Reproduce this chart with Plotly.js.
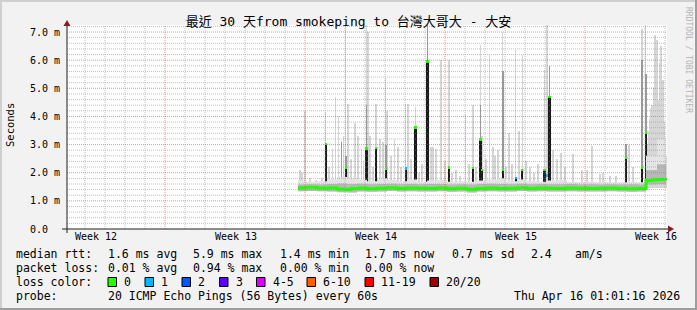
<!DOCTYPE html>
<html><head><meta charset="utf-8">
<script src="https://cdn.plot.ly/plotly-3.0.1.min.js"></script>
<style>html,body{margin:0;padding:0;background:#f2f2f2;overflow:hidden}</style>
</head><body><div id="chart" style="width:697px;height:310px"></div>
<script>
// ---- time axis: days since start of the 30-day window ----
const weekTicks = [1.45, 8.45, 15.45, 22.45, 29.45];
const weekLabels = ["Week 12", "Week 13", "Week 14", "Week 15", "Week 16"];
const yTicks = [0, 1, 2, 3, 4, 5, 6, 7];
const yLabels = ["0.0\u00a0\u00a0", "1.0 m", "2.0 m", "3.0 m", "4.0 m", "5.0 m", "6.0 m", "7.0 m"];

// median rtt (ms), loss 0
const medT = [11.55, 12.0, 12.5, 12.9, 13.1, 13.5, 13.9, 14.2, 14.6, 15.0, 15.5, 16.0, 16.5, 17.0, 17.5, 18.0, 18.5, 19.0, 19.5, 20.0, 20.5, 21.0, 21.5, 22.0, 22.5, 23.0, 23.5, 24.0, 24.5, 25.0, 25.5, 26.0, 26.5, 27.0, 27.5, 28.0, 28.5, 28.95, 29.3, 29.5, 29.95];
const medV = [1.47, 1.48, 1.46, 1.45, 1.47, 1.42, 1.40, 1.44, 1.46, 1.43, 1.45, 1.47, 1.44, 1.46, 1.45, 1.44, 1.46, 1.43, 1.45, 1.41, 1.44, 1.46, 1.44, 1.45, 1.47, 1.44, 1.46, 1.45, 1.44, 1.46, 1.45, 1.44, 1.45, 1.46, 1.44, 1.43, 1.44, 1.72, 1.74, 1.76, 1.73];

// smoke band around the median
const bandT  = [11.55, 12.0, 12.5, 13.0, 13.5, 14.0, 14.5, 15.0, 15.5, 16.0, 16.5, 17.0, 17.5, 18.0, 18.5, 19.0, 19.5, 20.0, 20.5, 21.0, 21.5, 22.0, 22.5, 23.0, 23.5, 24.0, 24.5, 25.0, 25.5, 26.0, 26.5, 27.0, 27.5, 28.0, 28.5, 28.95, 29.5, 29.95];
const bandLo = [1.34, 1.35, 1.34, 1.33, 1.31, 1.30, 1.33, 1.32, 1.33, 1.35, 1.33, 1.34, 1.33, 1.33, 1.34, 1.32, 1.33, 1.30, 1.33, 1.34, 1.33, 1.33, 1.35, 1.33, 1.34, 1.33, 1.33, 1.34, 1.33, 1.33, 1.33, 1.34, 1.33, 1.32, 1.33, 1.58, 1.60, 1.58];
const bandMid = [1.58, 1.59, 1.58, 1.60, 1.62, 1.60, 1.61, 1.59, 1.60, 1.61, 1.59, 1.60, 1.59, 1.60, 1.60, 1.58, 1.59, 1.58, 1.60, 1.61, 1.60, 1.59, 1.61, 1.59, 1.60, 1.59, 1.59, 1.60, 1.58, 1.59, 1.58, 1.59, 1.58, 1.59, 1.58, 2.10, 2.30, 2.00];
const bandHi = [1.72, 1.68, 1.70, 1.78, 1.85, 1.80, 1.75, 1.70, 1.80, 1.74, 1.70, 1.76, 1.68, 1.72, 1.74, 1.68, 1.70, 1.68, 1.72, 1.76, 1.80, 1.70, 1.76, 1.70, 1.68, 1.72, 1.74, 1.68, 1.66, 1.68, 1.66, 1.66, 1.66, 1.68, 1.66, 2.60, 3.20, 2.60];

// light smoke: max ping of each interval
const smokeT = [11.65, 11.75, 11.90, 12.15, 12.45, 12.75, 12.94, 13.10, 13.28, 13.42, 13.57, 13.72, 13.82, 13.94, 14.05, 14.20, 14.40, 14.55, 14.72, 14.82, 14.97, 15.05, 15.15, 15.30, 15.45, 15.65, 15.80, 15.94, 16.00, 16.20, 16.39, 16.55, 16.70, 16.94, 17.05, 17.20, 17.42, 17.60, 17.75, 18.02, 18.20, 18.30, 18.45, 18.70, 18.90, 19.10, 19.25, 19.45, 19.65, 19.93, 20.10, 20.30, 20.45, 20.67, 20.75, 20.95, 21.12, 21.30, 21.40, 21.55, 21.79, 21.95, 22.10, 22.25, 22.42, 22.60, 22.78, 22.95, 23.15, 23.35, 23.55, 23.87, 24.00, 24.30, 24.50, 24.70, 24.90, 25.30, 25.75, 26.00, 26.25, 26.65, 26.80, 27.15, 27.45, 27.94, 28.10, 28.30, 28.75, 28.94, 29.00, 29.05, 29.10, 29.15, 29.20, 29.25, 29.30, 29.35, 29.40, 29.45, 29.50, 29.55, 29.60, 29.65, 29.70, 29.75, 29.80, 29.85, 29.90, 29.95];
const smokeTop = [2.10, 2.00, 4.20, 1.80, 1.75, 1.80, 4.15, 2.20, 2.86, 4.69, 4.00, 3.14, 3.30, 7.25, 4.46, 2.50, 3.75, 3.30, 2.86, 2.40, 7.25, 7.00, 3.30, 2.20, 4.46, 3.20, 3.10, 5.35, 4.20, 2.60, 3.20, 2.90, 2.20, 4.43, 4.46, 2.50, 4.33, 2.00, 2.30, 7.25, 2.90, 2.90, 2.86, 6.00, 2.40, 6.00, 2.00, 2.10, 1.90, 4.10, 2.30, 4.40, 2.20, 6.54, 3.30, 2.50, 6.20, 2.90, 2.60, 2.80, 7.00, 2.20, 3.40, 2.30, 6.36, 3.50, 6.18, 2.40, 2.20, 2.00, 2.30, 5.64, 7.25, 2.80, 2.50, 2.70, 2.20, 2.68, 2.10, 2.10, 2.94, 1.95, 2.00, 1.90, 1.90, 3.03, 3.00, 2.20, 7.10, 7.25, 2.20, 3.00, 3.50, 3.90, 4.30, 4.40, 4.20, 5.00, 6.90, 5.50, 6.70, 4.60, 4.40, 5.90, 6.50, 4.80, 5.30, 3.80, 3.20, 2.60];

// darker smoke (inner pings)
const darkT = [13.72, 13.94, 14.97, 15.94, 18.02, 20.67, 21.79, 24.12, 27.94, 28.75, 28.94];
const darkTop = [3.08, 2.60, 4.40, 3.00, 7.25, 4.40, 5.60, 5.80, 3.03, 6.00, 5.50];

// median spikes (ms) and packets lost in that interval
const spikeT = [12.94, 13.94, 14.97, 15.45, 15.94, 16.94, 17.42, 18.02, 19.10, 20.30, 20.67, 20.74, 21.79, 22.45, 22.75, 23.87, 24.12, 27.94, 28.75, 28.94];
const spikeMed = [3.02, 2.17, 2.87, 2.88, 2.13, 2.15, 3.60, 5.94, 2.19, 2.17, 3.17, 2.10, 2.10, 1.81, 2.10, 2.10, 4.69, 2.52, 2.19, 3.42];
const spikeLoss = [0, 0, 0, 0, 0, 1, 0, 0, 0, 0, 0, 0, 0, 1, 0, 0, 0, 0, 0, 0];

// isolated lossy medians near the baseline
const lossT = [14.2, 16.4, 17.1, 18.62, 24.0, 29.02];
const lossV = [1.60, 1.43, 1.50, 1.47, 1.90, 1.68];
const lossN = [1, 1, 1, 1, 1, 1];

// legend
const lossLabels = ["0", "1", "2", "3", "4-5", "6-10", "11-19", "20/20"];
const lossColors = ["#22ff00", "#00b8ff", "#0059ff", "#5e00ff", "#dd00ff", "#ff5e00", "#ff0000", "#a10000"];
const rttStats = ["1.6 ms avg", "5.9 ms max", "1.4 ms min", "1.7 ms now", "0.7 ms sd", "2.4", "am/s"];
const lossStats = ["0.01 % avg", "0.94 % max", "0.00 % min", "0.00 % now"];
const probeText = "20 ICMP Echo Pings (56 Bytes) every 60s";
const stampText = "Thu Apr 16 01:01:16 2026";
const titleText = "最近 30 天from smokeping to 台灣大哥大 - 大安";

// ---- geometry ----
const W = 697, H = 310, L = 67, R = 30, T = 25, B = 81;
const PW = W - L - R, PH = H - T - B;
const px = x => (x - L) / PW;
const py = y => (H - B - y) / PH;
const MONO = "DejaVu Sans Mono, Noto Sans CJK TC, monospace";
const SPIKE_BASE = 1.42, SMOKE_BASE = 1.45;

const traces = [];
traces.push({x: bandT, y: bandLo, type: 'scatter', mode: 'lines', line: {width: 0, shape: 'hv'}, hoverinfo: 'skip', showlegend: false});
traces.push({x: bandT, y: bandHi, type: 'scatter', mode: 'lines', line: {width: 0, shape: 'hv'}, fill: 'tonexty', fillcolor: '#e4e4e4', hoverinfo: 'skip', showlegend: false});
traces.push({x: bandT, y: bandLo, type: 'scatter', mode: 'lines', line: {width: 0, shape: 'hv'}, hoverinfo: 'skip', showlegend: false});
traces.push({x: bandT, y: bandMid, type: 'scatter', mode: 'lines', line: {width: 0, shape: 'hv'}, fill: 'tonexty', fillcolor: '#b8b8b8', hoverinfo: 'skip', showlegend: false});
traces.push({x: smokeT, y: smokeTop.map(v => v - SMOKE_BASE), base: SMOKE_BASE, type: 'bar', width: 0.06,
  marker: {color: '#d6d6d6', line: {width: 0}}, hoverinfo: 'skip', showlegend: false});
traces.push({x: darkT, y: darkTop.map(v => v - SMOKE_BASE), base: SMOKE_BASE, type: 'bar', width: 0.07,
  marker: {color: '#9a9a9a', line: {width: 0}}, hoverinfo: 'skip', showlegend: false});
traces.push({x: spikeT, y: spikeMed.map(v => v - SPIKE_BASE), base: SPIKE_BASE, type: 'bar', width: 0.12,
  marker: {color: '#1a1a1a', line: {width: 0}}, hoverinfo: 'skip', showlegend: false});
traces.push({x: medT, y: medV, type: 'scatter', mode: 'lines', line: {color: lossColors[0], width: 3, shape: 'hv'}, hoverinfo: 'skip', showlegend: false});
traces.push({x: spikeT, y: spikeT.map(() => 0.1), base: spikeMed.map(v => v - 0.05), type: 'bar', width: 0.12,
  marker: {color: spikeLoss.map(n => lossColors[n]), line: {width: 0}}, hoverinfo: 'skip', showlegend: false});
traces.push({x: lossT, y: lossT.map(() => 0.1), base: lossV.map(v => v - 0.05), type: 'bar', width: 0.1,
  marker: {color: lossN.map(n => lossColors[n]), line: {width: 0}}, hoverinfo: 'skip', showlegend: false});

// ---- grid (drawn above the smoke like rrdtool) ----
const shapes = [];
const gridMinor = 'rgba(143,143,143,0.55)', gridMajor = 'rgba(222,79,79,0.6)';
for (let k = 1; k <= 36; k++) {
  const v = k * 0.2;
  const major = k % 5 === 0;
  shapes.push({type: 'line', xref: 'x', yref: 'y', x0: 0, x1: 30, y0: v, y1: v, layer: 'above',
    line: {color: major ? gridMajor : gridMinor, width: 1, dash: '1px,1px'}});
}
for (let k = 0; k < 30; k++) {
  const d = 0.9 + k;
  const major = (k - 4) % 7 === 0;
  shapes.push({type: 'line', xref: 'x', yref: 'y', x0: d, x1: d, y0: 0, y1: 7.25, layer: 'above',
    line: {color: major ? gridMajor : gridMinor, width: 1, dash: '1px,1px'}});
}
// axes with arrows
shapes.push({type: 'line', xref: 'paper', yref: 'paper', x0: px(62), x1: px(669), y0: py(229), y1: py(229), line: {color: '#1f1f1f', width: 1}, layer: 'above'});
shapes.push({type: 'line', xref: 'paper', yref: 'paper', x0: px(67), x1: px(67), y0: py(233), y1: py(25), line: {color: '#1f1f1f', width: 1}, layer: 'above'});
shapes.push({type: 'path', xref: 'paper', yref: 'paper', layer: 'above', fillcolor: '#801f1f', line: {width: 0},
  path: `M ${px(668)} ${py(225.5)} L ${px(674)} ${py(229)} L ${px(668)} ${py(232.5)} Z`});
shapes.push({type: 'path', xref: 'paper', yref: 'paper', layer: 'above', fillcolor: '#801f1f', line: {width: 0},
  path: `M ${px(63.5)} ${py(26)} L ${px(67)} ${py(20)} L ${px(70.5)} ${py(26)} Z`});
// frame shading
shapes.push({type: 'rect', xref: 'paper', yref: 'paper', x0: px(0), x1: px(W), y0: py(0), y1: py(2), fillcolor: '#cfcfcf', line: {width: 0}});
shapes.push({type: 'rect', xref: 'paper', yref: 'paper', x0: px(0), x1: px(2), y0: py(0), y1: py(H), fillcolor: '#cfcfcf', line: {width: 0}});
shapes.push({type: 'rect', xref: 'paper', yref: 'paper', x0: px(0), x1: px(W), y0: py(H - 2), y1: py(H), fillcolor: '#9e9e9e', line: {width: 0}});
shapes.push({type: 'rect', xref: 'paper', yref: 'paper', x0: px(W - 2), x1: px(W), y0: py(0), y1: py(H), fillcolor: '#9e9e9e', line: {width: 0}});

// ---- legend text ----
const ann = [];
const LF = {family: MONO, size: 11.5, color: '#000'};
function txt(text, x, y, anchor) {
  ann.push({text: text, xref: 'paper', yref: 'paper', x: px(x), y: py(y), xanchor: anchor || 'left', yanchor: 'middle',
    showarrow: false, font: LF, borderpad: 0});
}
const statX = [107, 192, 279, 364, 451, 530, 574];
txt("median rtt:", 15, 254);
rttStats.forEach((s, i) => txt(s, statX[i], 254));
txt("packet loss:", 15, 268);
lossStats.forEach((s, i) => txt(s, statX[i], 268));
txt("loss color:", 15, 282);
const boxX = [108, 145, 182, 219.5, 256.5, 307, 365, 430];
lossLabels.forEach((s, i) => {
  shapes.push({type: 'rect', xref: 'paper', yref: 'paper', x0: px(boxX[i]), x1: px(boxX[i] + 8.5), y0: py(277.5), y1: py(286.5),
    fillcolor: lossColors[i], line: {color: '#000', width: 1}});
  txt(s, boxX[i] + 15, 282);
});
txt("probe:", 15, 296);
txt(probeText, 107, 296);
txt(stampText, 681, 296, 'right');
// y title and watermark
ann.push({text: "Seconds", xref: 'paper', yref: 'paper', x: px(10), y: py(125), xanchor: 'center', yanchor: 'middle',
  textangle: -90, showarrow: false, font: {family: MONO, size: 10.5, color: '#000'}});
ann.push({text: "RRDTOOL / TOBI OETIKER", xref: 'paper', yref: 'paper', x: px(688), y: py(60), xanchor: 'center', yanchor: 'middle',
  textangle: 90, showarrow: false, font: {family: MONO, size: 8, color: '#b4b4b4'}});

const layout = {
  width: W, height: H,
  margin: {l: L, r: R, t: T, b: B, pad: 0},
  paper_bgcolor: '#f2f2f2', plot_bgcolor: '#ffffff',
  title: {text: titleText, font: {family: MONO, size: 13, color: '#000'}, x: 0.5, xref: 'container', xanchor: 'center',
    y: 1 - 21 / H, yref: 'container', yanchor: 'middle'},
  showlegend: false, hovermode: false, barmode: 'overlay', bargap: 0,
  xaxis: {range: [0, 30], tickmode: 'array', tickvals: weekTicks, ticktext: weekLabels, showgrid: false, zeroline: false,
    showline: false, ticks: '', tickfont: {family: MONO, size: 10, color: '#000'}, fixedrange: true},
  yaxis: {range: [0, 204 / 28.14], tickmode: 'array', tickvals: yTicks, ticktext: yLabels, showgrid: false, zeroline: false,
    showline: false, ticks: '', ticklabelstandoff: 6, tickfont: {family: MONO, size: 10, color: '#000'}, fixedrange: true},
  shapes: shapes, annotations: ann
};
Plotly.newPlot('chart', traces, layout, {staticPlot: true, displayModeBar: false});
</script></body></html>
